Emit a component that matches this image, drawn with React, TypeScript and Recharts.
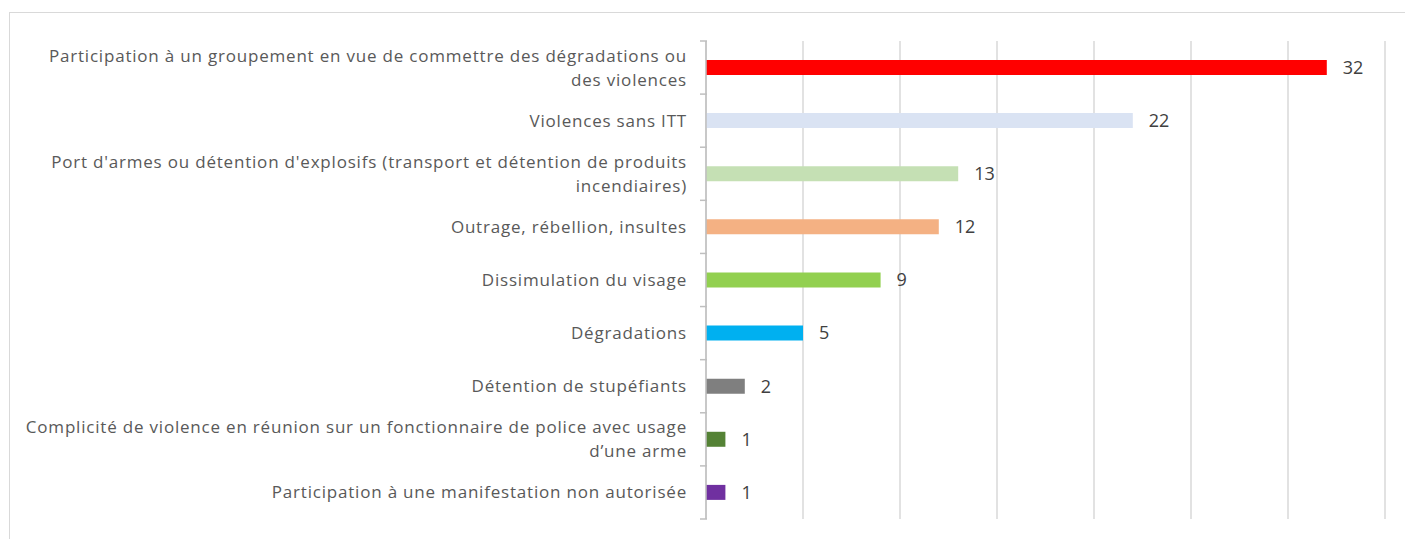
import { BarChart, Bar, XAxis, YAxis, CartesianGrid, Cell, LabelList } from "recharts";

const categories = [
  "Participation à un groupement en vue de commettre des dégradations ou\ndes violences",
  "Violences sans ITT",
  "Port d'armes ou détention d'explosifs (transport et détention de produits\nincendiaires)",
  "Outrage, rébellion, insultes",
  "Dissimulation du visage",
  "Dégradations",
  "Détention de stupéfiants",
  "Complicité de violence en réunion sur un fonctionnaire de police avec usage\nd’une arme",
  "Participation à une manifestation non autorisée",
];
const counts = [32, 22, 13, 12, 9, 5, 2, 1, 1];
const colors = ["#FF0000", "#DAE3F3", "#C5E0B4", "#F4B183", "#92D050", "#00B0F0", "#7F7F7F", "#548235", "#7030A0"];
const xTicks = [0, 5, 10, 15, 20, 25, 30, 35];

const data = categories.map((name, i) => ({ name, value: counts[i] }));

const W = 1405;
const H = 539;
const margin = { top: 41, right: 20, bottom: 20, left: 0 };
const band = (H - margin.top - margin.bottom) / categories.length;
const xMax = xTicks[xTicks.length - 1];

function CategoryTick(props: any) {
  const { x, y, payload, index } = props;
  const lines: string[] = String(payload.value).split("\n");
  const lh = 24;
  const y0 = y - ((lines.length - 1) * lh) / 2;
  const ax = x + 9;
  return (
    <g>
      <line x1={ax - 7} x2={ax} y1={y - band / 2} y2={y - band / 2} stroke="#BFBFBF" strokeWidth={1.5} />
      {index === categories.length - 1 && (
        <line x1={ax - 7} x2={ax} y1={y + band / 2} y2={y + band / 2} stroke="#BFBFBF" strokeWidth={1.5} />
      )}
      <text
        x={x - 11}
        y={y0}
        textAnchor="end"
        fontSize={17}
        letterSpacing={0.8}
        fill="#595959"
        fontFamily="'Open Sans', sans-serif"
      >
        {lines.map((l, i) => (
          <tspan key={i} x={x - 11} dy={i === 0 ? "0.35em" : lh}>
            {l}
          </tspan>
        ))}
      </text>
    </g>
  );
}

// grid lines at every 5 units
const gridX = ({ offset }: any) => xTicks.map((t) => offset.left + (t / xMax) * offset.width);

export default function App() {
  return (
    <div style={{ position: "absolute", left: 0, top: 0, width: W, height: H, background: "#fff", overflow: "hidden" }}>
      <div
        style={{
          position: "absolute",
          left: 9,
          top: 12,
          width: W,
          height: H,
          border: "1.5px solid #D9D9D9",
        }}
      />
      <div style={{ position: "absolute", left: 0, top: 0 }}>
        <BarChart width={W} height={H} data={data} layout="vertical" margin={margin}>
          <CartesianGrid horizontal={false} stroke="#D9D9D9" strokeWidth={1.5} verticalCoordinatesGenerator={gridX} />
          <XAxis type="number" domain={[0, xMax]} ticks={xTicks} tick={false} axisLine={false} tickLine={false} height={0} />
          <YAxis
            type="category"
            dataKey="name"
            width={706}
            interval={0}
            tick={<CategoryTick />}
            tickLine={false}
            axisLine={{ stroke: "#BFBFBF", strokeWidth: 1.5 }}
          />
          <Bar dataKey="value" barSize={15} isAnimationActive={false}>
            {data.map((d, i) => (
              <Cell key={d.name} fill={colors[i]} />
            ))}
            <LabelList
              dataKey="value"
              position="right"
              offset={16}
              fill="#404040"
              fontSize={18}
              fontFamily="'Open Sans', sans-serif"
            />
          </Bar>
        </BarChart>
      </div>
    </div>
  );
}
